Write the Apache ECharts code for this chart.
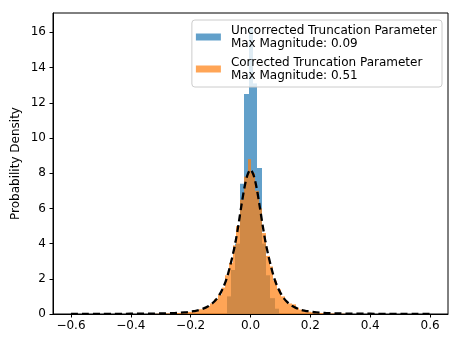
<!DOCTYPE html>
<html>
<head>
<meta charset="utf-8">
<script src="https://cdn.jsdelivr.net/npm/echarts@6/dist/echarts.min.js"></script>
<style>
  html, body { margin: 0; padding: 0; background: #fff; }
  #chart { width: 461px; height: 346px; }
</style>
</head>
<body>
<div id="chart"></div>
<script>
  // histogram of the uncorrected parameter (narrow bins)
  var blueStart = -0.0796
  var blueWidth = 0.0146
  var blueDensity = [1.0, 2.5, 4.0, 7.4, 12.5, 16.3, 13.1, 8.3, 4.0, 2.2, 0.9, 0.3]

  // histogram of the corrected parameter
  var orangeStart = -0.3324
  var orangeWidth = 0.0124
  var orangeDensity = [
    0.01, 0.01, 0.02, 0.02, 0.03, 0.04, 0.04, 0.06, 0.07, 0.09,
    0.12, 0.15, 0.2, 0.27, 0.35, 0.45, 0.6, 0.85, 1.1, 1.5,
    2.2, 2.9, 3.9, 5.0, 6.5, 7.8, 8.8, 8.0, 7.0, 6.0,
    4.6, 3.3, 2.7, 1.9, 1.4, 1.0, 0.75, 0.6, 0.55, 0.35,
    0.25, 0.18, 0.13, 0.1, 0.08, 0.06, 0.05, 0.04, 0.03, 0.03,
    0.02, 0.02, 0.01
  ]

  // fitted density curve (dashed)
  var curveX = [
    -0.6, -0.55, -0.5, -0.46, -0.42, -0.38, -0.34, -0.3, -0.28, -0.26, -0.24, -0.22,
    -0.2, -0.19, -0.18, -0.17, -0.16, -0.15, -0.14, -0.13, -0.12, -0.11,
    -0.1, -0.09, -0.08, -0.07, -0.06, -0.05, -0.04, -0.03, -0.02, -0.01,
    0, 0.01, 0.02, 0.03, 0.04, 0.05, 0.06, 0.07, 0.08, 0.09,
    0.1, 0.11, 0.12, 0.13, 0.14, 0.15, 0.16, 0.17, 0.18, 0.19,
    0.2, 0.22, 0.24, 0.26, 0.28, 0.3, 0.34, 0.38, 0.42, 0.46, 0.5, 0.55, 0.6
  ]
  var curveY = [
    0.004, 0.005, 0.007, 0.009, 0.012, 0.016, 0.022, 0.03, 0.04, 0.05, 0.07, 0.09,
    0.13, 0.16, 0.19, 0.23, 0.29, 0.36, 0.45, 0.57, 0.72, 0.93,
    1.2, 1.55, 2.0, 2.6, 3.3, 4.1, 5.1, 6.2, 7.2, 7.9,
    8.2, 7.9, 7.2, 6.2, 5.1, 4.1, 3.3, 2.6, 2.0, 1.55,
    1.2, 0.93, 0.72, 0.57, 0.45, 0.36, 0.29, 0.23, 0.19, 0.16,
    0.13, 0.09, 0.07, 0.05, 0.04, 0.03, 0.022, 0.016, 0.012, 0.009, 0.007, 0.005, 0.004
  ]

  var xTicks = [-0.6, -0.4, -0.2, 0, 0.2, 0.4, 0.6]
  var yTicks = [0, 2, 4, 6, 8, 10, 12, 14, 16]

  var blueName = 'Uncorrected Truncation Parameter\nMax Magnitude: 0.09'
  var orangeName = 'Corrected Truncation Parameter\nMax Magnitude: 0.51'
  var blueColor = 'rgba(31,119,180,0.7)'
  var orangeColor = 'rgba(255,127,14,0.7)'

  function toBins(start, width, values) {
    return values.map(function (v, i) {
      return [start + i * width, start + (i + 1) * width, v]
    })
  }

  function renderBar(params, api) {
    var p0 = api.coord([api.value(0), api.value(2)])
    var p1 = api.coord([api.value(1), 0])
    // snap the sides so neighbouring bins meet without seams
    var left = Math.round(p0[0])
    var right = Math.round(p1[0])
    return {
      type: 'rect',
      shape: { x: left, y: p0[1], width: right - left, height: p1[1] - p0[1] },
      style: { fill: api.visual('color') }
    }
  }

  var font = 'DejaVu Sans'
  var chart = echarts.init(document.getElementById('chart'))

  chart.setOption({
    animation: false,
    textStyle: { fontFamily: font },
    grid: {
      left: 53, right: 13, top: 13, bottom: 32,
      show: true, borderColor: '#000', borderWidth: 1, backgroundColor: 'transparent'
    },
    legend: {
      data: [blueName, orangeName],
      orient: 'vertical',
      right: 19,
      top: 20,
      icon: 'rect',
      itemWidth: 25,
      itemHeight: 7,
      itemGap: 6,
      padding: [4, 5, 5, 4],
      backgroundColor: 'rgba(255,255,255,0.8)',
      borderColor: '#ccc',
      borderWidth: 1,
      borderRadius: 3,
      textStyle: { fontFamily: font, fontSize: 12, lineHeight: 13, color: '#000', padding: [0, 0, 0, 5] }
    },
    xAxis: {
      type: 'value',
      min: -0.66,
      max: 0.66,
      splitLine: { show: false },
      axisLine: { onZero: false, lineStyle: { color: '#000' } },
      axisTick: { show: true, length: 3.5, customValues: xTicks, lineStyle: { color: '#000' } },
      axisLabel: {
        customValues: xTicks,
        margin: 6,
        fontSize: 12,
        color: '#000',
        fontFamily: font,
        formatter: function (v) {
          return (v < 0 ? '\u2212' : '') + Math.abs(v).toFixed(1)
        }
      }
    },
    yAxis: {
      type: 'value',
      min: 0,
      max: 17.1,
      name: 'Probability Density',
      nameLocation: 'middle',
      nameGap: 31,
      nameMoveOverlap: false,
      nameTextStyle: { fontSize: 12, color: '#000', fontFamily: font },
      splitLine: { show: false },
      axisLine: { show: true, onZero: false, lineStyle: { color: '#000' } },
      axisTick: { show: true, length: 3.5, customValues: yTicks, lineStyle: { color: '#000' } },
      axisLabel: { customValues: yTicks, margin: 7, fontSize: 12, color: '#000', fontFamily: font }
    },
    series: [
      {
        name: blueName,
        type: 'custom',
        renderItem: renderBar,
        itemStyle: { color: blueColor },
        encode: { x: [0, 1], y: 2 },
        data: toBins(blueStart, blueWidth, blueDensity),
        z: 2
      },
      {
        name: orangeName,
        type: 'custom',
        renderItem: renderBar,
        itemStyle: { color: orangeColor },
        encode: { x: [0, 1], y: 2 },
        data: toBins(orangeStart, orangeWidth, orangeDensity),
        z: 3
      },
      {
        name: 'fit',
        type: 'line',
        smooth: 0.3,
        symbol: 'none',
        lineStyle: { color: '#000', width: 2.3, type: [7, 4] },
        data: curveX.map(function (x, i) { return [x, curveY[i]] }),
        z: 4
      }
    ]
  })
</script>
</body>
</html>
